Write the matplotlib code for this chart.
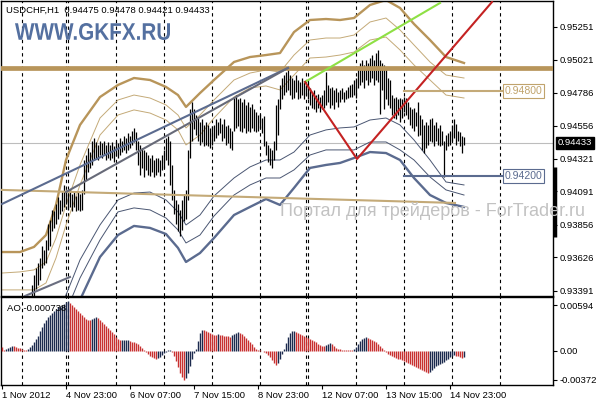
import matplotlib
matplotlib.use("Agg")
import matplotlib.pyplot as plt
import matplotlib.transforms as mtransforms
from matplotlib.textpath import TextPath
from matplotlib.patches import PathPatch
from matplotlib.font_manager import FontProperties
import numpy as np

plt.rcParams['font.family'] = ['Liberation Sans', 'DejaVu Sans']

symbol = "USDCHF,H1"
last_ohlc = [0.94475, 0.94478, 0.94421, 0.94433]

# H1 bars, price in pips (0.0001), first visible bar index
first_bar = 15
bar_high = [9343, 9350, 9355, 9359, 9362, 9371, 9368, 9375, 9386, 9389,
            9396, 9395, 9400, 9405, 9403, 9409, 9414, 9410, 9407, 9410,
            9407, 9409, 9406, 9409, 9407, 9410, 9431, 9435, 9440, 9437,
            9445, 9447, 9444, 9442, 9445, 9443, 9445, 9442, 9444, 9442,
            9444, 9441, 9445, 9443, 9447, 9445, 9448, 9447, 9450, 9448,
            9452, 9454, 9451, 9445, 9442, 9440, 9438, 9437, 9435, 9433,
            9435, 9431, 9433, 9433, 9431, 9435, 9438, 9447, 9448, 9445,
            9428, 9410, 9403, 9400, 9396, 9403, 9407, 9410, 9438, 9467,
            9472, 9467, 9463, 9461, 9458, 9460, 9456, 9458, 9456, 9454,
            9455, 9456, 9460, 9458, 9461, 9457, 9460, 9455, 9456, 9454,
            9452, 9476, 9477, 9474, 9475, 9472, 9474, 9470, 9472, 9469,
            9471, 9467, 9465, 9463, 9464, 9461, 9462, 9445, 9442, 9440,
            9438, 9445, 9470, 9474, 9484, 9489, 9491, 9493, 9496, 9491,
            9489, 9488, 9491, 9488, 9486, 9489, 9486, 9484, 9486, 9482,
            9479, 9481, 9477, 9478, 9476, 9477, 9481, 9493, 9484, 9482,
            9483, 9481, 9482, 9479, 9481, 9482, 9479, 9481, 9483, 9484,
            9485, 9488, 9489, 9496, 9500, 9502, 9498, 9502, 9500, 9503,
            9505, 9502, 9507, 9509, 9502, 9500, 9498, 9496, 9489, 9488,
            9477, 9475, 9476, 9474, 9475, 9474, 9476, 9475, 9472, 9469,
            9467, 9468, 9465, 9472, 9463, 9460, 9456, 9458, 9456, 9460,
            9461, 9456, 9458, 9454, 9456, 9452, 9445, 9449, 9450, 9452,
            9456, 9460, 9457, 9452, 9451, 9448, 9447.8]
bar_low = [9333, 9334, 9340, 9343, 9347, 9355, 9357, 9359, 9368, 9371,
           9381, 9383, 9386, 9390, 9393, 9395, 9398, 9400, 9396, 9398,
           9395, 9398, 9395, 9396, 9395, 9396, 9407, 9417, 9423, 9426,
           9428, 9431, 9433, 9431, 9435, 9433, 9435, 9431, 9433, 9431,
           9433, 9430, 9434, 9433, 9435, 9437, 9438, 9436, 9438, 9440,
           9442, 9444, 9438, 9428, 9421, 9426, 9419, 9424, 9421, 9420,
           9423, 9419, 9421, 9423, 9420, 9424, 9426, 9431, 9428, 9414,
           9403, 9393, 9386, 9381, 9378, 9382, 9388, 9390, 9403, 9433,
           9445, 9453, 9449, 9445, 9442, 9444, 9441, 9442, 9441, 9440,
           9442, 9445, 9447, 9449, 9450, 9445, 9447, 9442, 9443, 9440,
           9438, 9452, 9454, 9455, 9452, 9451, 9454, 9450, 9452, 9451,
           9454, 9452, 9451, 9452, 9454, 9450, 9441, 9435, 9430, 9428,
           9426, 9431, 9438, 9449, 9467, 9474, 9477, 9479, 9481, 9477,
           9474, 9475, 9479, 9474, 9475, 9477, 9474, 9477, 9474, 9470,
           9468, 9467, 9465, 9468, 9465, 9467, 9468, 9470, 9472, 9468,
           9470, 9467, 9472, 9469, 9472, 9474, 9472, 9474, 9475, 9476,
           9476, 9477, 9475, 9482, 9484, 9486, 9482, 9488, 9484, 9486,
           9489, 9484, 9488, 9486, 9464, 9481, 9467, 9474, 9470, 9468,
           9463, 9461, 9460, 9463, 9458, 9461, 9465, 9463, 9460, 9456,
           9454, 9452, 9455, 9448, 9449, 9438, 9436, 9440, 9442, 9445,
           9444, 9441, 9445, 9442, 9441, 9442, 9419, 9438, 9441, 9442,
           9445, 9447, 9442, 9445, 9441, 9436, 9442.1]

# Bollinger-style bands, read at sparse bars (pips)
band_idx = [0, 9, 16, 22, 27, 32, 39, 49, 58, 66, 74, 82, 88, 92, 99, 106,
            116, 124, 132, 139, 146, 154, 162, 169, 176, 184, 192, 199, 206,
            214, 222, 231]
band_up3 = [9366.4, 9366.4, 9370.0, 9378.4, 9399.6, 9431.3, 9456.0, 9475.7,
            9484.2, 9489.1, 9487.7, 9482.8, 9477.1, 9468.7, 9478.5, 9487.7,
            9500.4, 9503.9, 9505.3, 9506.7, 9521.5, 9530.0, 9530.7, 9530.0,
            9531.4, 9540.6, 9544.1, 9538.5, 9527.2, 9515.9, 9503.9, 9499.7]
band_up2 = [9351.6, 9352.4, 9353.8, 9359.4, 9376.3, 9399.6, 9427.8, 9460.9,
            9473.6, 9477.1, 9475.0, 9470.1, 9463.0, 9453.9, 9463.0, 9473.6,
            9487.7, 9492.6, 9494.8, 9493.3, 9505.3, 9515.9, 9517.3, 9517.3,
            9519.4, 9528.6, 9531.4, 9523.0, 9512.4, 9500.4, 9491.2, 9489.1]
band_up1 = [9339.7, 9339.7, 9339.7, 9344.6, 9362.2, 9385.5, 9413.7, 9448.9,
            9463.0, 9466.6, 9464.4, 9459.5, 9452.5, 9441.9, 9448.9, 9460.9,
            9475.7, 9482.1, 9483.5, 9480.7, 9491.2, 9503.2, 9503.9, 9505.3,
            9507.4, 9515.9, 9518.0, 9508.9, 9498.3, 9487.7, 9477.1, 9475.0]
band_dn1 = [9311.4, 9311.4, 9312.9, 9315.0, 9318.5, 9336.1, 9360.8, 9385.5,
            9403.1, 9408.0, 9408.7, 9403.1, 9394.7, 9385.5, 9392.5, 9405.9,
            9418.6, 9426.4, 9431.3, 9431.3, 9436.9, 9448.9, 9452.5, 9453.9,
            9454.6, 9459.5, 9460.9, 9456.0, 9445.4, 9431.3, 9415.8, 9413.7]
band_dn2 = [9300.9, 9300.9, 9302.3, 9304.4, 9307.9, 9324.1, 9348.1, 9374.9,
            9394.7, 9397.5, 9396.1, 9390.4, 9382.0, 9372.8, 9378.4, 9391.8,
            9406.6, 9413.7, 9418.6, 9418.6, 9424.3, 9434.8, 9438.4, 9438.4,
            9438.4, 9444.0, 9444.0, 9438.4, 9431.3, 9419.3, 9410.2, 9406.6]
band_dn3 = [9290.3, 9290.3, 9291.7, 9293.8, 9297.4, 9311.4, 9332.6, 9362.9,
            9378.4, 9384.8, 9383.4, 9379.1, 9369.3, 9359.4, 9365.7, 9376.3,
            9392.5, 9398.2, 9403.8, 9399.6, 9411.6, 9425.7, 9427.8, 9429.2,
            9432.7, 9436.9, 9436.2, 9431.3, 9418.6, 9406.6, 9401.0, 9398.2]

# Awesome Oscillator, units of 0.00001, from bar 0
ao_pts = [52, 13, 26, 39, 52, 65, 65, 52, 39, 33, 26, 13, 13, 26, 52, 78,
          117, 156, 195, 260, 312, 364, 403, 442, 468, 494, 520, 546, 572,
          585, 598, 611, 637, 650, 624, 598, 572, 546, 520, 494, 468, 442,
          416, 403, 403, 416, 429, 442, 429, 403, 377, 351, 325, 299, 273,
          247, 221, 182, 156, 143, 145, 147, 148, 149, 130, 117, 112, 104,
          91, 65, 39, 13, -13, -39, -65, -78, -91, -104, -91, -78, -52, -26,
          -13, 7, 8, -13, -65, -130, -208, -286, -338, -377, -351, -286,
          -195, -104, -26, 26, 130, 234, 273, 270, 260, 247, 234, 221, 208,
          205, 221, 208, 205, 195, 193, 190, 188, 208, 221, 234, 247, 240,
          221, 195, 169, 143, 117, 91, 52, 26, 13, 12, 0, -13, -26, -52,
          -78, -117, -156, -182, -156, -104, -39, 26, 104, 182, 234, 255,
          260, 247, 234, 221, 208, 195, 182, 169, 156, 143, 130, 117, 91, 78,
          65, 64, 78, 91, 104, 91, 65, 39, 26, 20, 15, 13, 12, 12, 11, 10,
          26, 52, 91, 130, 156, 169, 176, 170, 156, 143, 130, 117, 91, 65,
          39, 13, -13, -39, -52, -65, -78, -91, -98, -104, -117, -130, -143,
          -156, -169, -182, -195, -208, -221, -234, -247, -260, -273, -286,
          -273, -247, -221, -195, -182, -169, -156, -143, -120, -100, -80,
          -60, -50, -60, -70, -80, -85, -74]
ao_last = "-0.000738"

separators = [10, 32, 33, 57, 81, 105, 129, 152, 153, 177, 201, 225, 249]
time_ticks = [0, 32, 64, 96, 128, 160, 192, 224]
time_labels = ["1 Nov 2012", "4 Nov 23:00", "6 Nov 07:00", "7 Nov 15:00",
               "8 Nov 23:00", "12 Nov 07:00", "13 Nov 15:00", "14 Nov 23:00"]
price_ticks = [0.95251, 0.95021, 0.94786, 0.94556, 0.94321, 0.94091,
               0.93856, 0.93626, 0.93391]
ao_ticks = [0.00594, 0.0, -0.00372]
ao_tick_labels = ["0.00594", "0.00", "-0.00372"]

# drawn objects (bar index, price)
resistance = 0.94962
level_hi = 0.94800
level_lo = 0.94200
level_span = [201, 251.5]
fan_a = ([0, 143], [0.94003, 0.94962])
fan_b = ([32, 143], [0.94087, 0.94962])
base_line = ([0, 226.5], [0.94102, 0.94010])
low_seg = ([11.5, 34], [0.93354, 0.93488])
green_line = ([151.5, 219], [0.94863, 0.95420])
red_line = ([151.5, 177.5, 245], [0.94863, 0.94320, 0.95427])

TAN = '#b8955a'
TAN_L = '#c4aa78'
SLATE = '#5b6b8f'
SLATE_D = '#4a5672'
NAVY = '#1c2a4e'
RED = '#c83030'

W, H = 596, 400
def frame(l, t, r, b):
    return [l / W, 1 - b / H, (r - l) / W, (b - t) / H]

fig = plt.figure(figsize=(W / 100, H / 100), dpi=100)
ax = fig.add_axes(frame(1, 1, 553, 296))
ao = fig.add_axes(frame(1, 297, 553, 385))

xmin, xmax = -0.5, 275.5
ax.set_xlim(xmin, xmax)
ax.set_ylim(0.93354, 0.95434)
ao.set_xlim(xmin, xmax)
ao.set_ylim(-0.00442, 0.00702)

dash = (0, (3, 3))
for s in separators:
    ax.axvline(s, color='black', lw=0.8, ls=dash, zorder=1)
    ao.axvline(s, color='black', lw=0.8, ls=dash, zorder=1)

# bands
bx = np.array(band_idx)
ax.plot(bx, np.array(band_up3) / 1e4, color=TAN, lw=1.7, zorder=2)
ax.plot(bx, np.array(band_up2) / 1e4, color=TAN_L, lw=0.7, zorder=2)
ax.plot(bx, np.array(band_up1) / 1e4, color=TAN_L, lw=0.7, zorder=2)
ax.plot(bx, np.array(band_dn1) / 1e4, color=SLATE_D, lw=0.7, zorder=2)
ax.plot(bx, np.array(band_dn2) / 1e4, color=SLATE_D, lw=0.7, zorder=2)
ax.plot(bx, np.array(band_dn3) / 1e4, color=SLATE, lw=1.7, zorder=2)

# current price line
ax.axhline(last_ohlc[3], color='#bdbdbd', lw=0.8, zorder=1)

# price bars
xb = np.arange(first_bar, first_bar + len(bar_high))
ax.vlines(xb, np.array(bar_low) / 1e4, np.array(bar_high) / 1e4,
          colors='black', lw=0.9, zorder=3)

# objects
ax.axhline(resistance, color=TAN, lw=3.4, zorder=4)
ax.plot(base_line[0], base_line[1], color=TAN_L, lw=1.5, zorder=4)
ax.plot(fan_a[0], fan_a[1], color=SLATE, lw=1.5, zorder=4)
ax.plot(fan_b[0], fan_b[1], color='#676a78', lw=1.5, zorder=4)
ax.plot(low_seg[0], low_seg[1], color='#6a6e80', lw=1.5, zorder=4)
ax.plot(green_line[0], green_line[1], color='#8ee044', lw=1.5, zorder=4)
ax.plot(red_line[0], red_line[1], color='#c42222', lw=1.5, zorder=4)
ax.plot(level_span, [level_hi, level_hi], color=TAN_L, lw=1.5, zorder=4)
ax.plot(level_span, [level_lo, level_lo], color=SLATE, lw=1.5, zorder=4)
ax.text(level_span[1], level_hi, "0.94800", color='#c0a36c', fontsize=7.6,
        ha='left', va='center', zorder=5,
        bbox=dict(boxstyle='square,pad=0.15', fc='white', ec='#c0a36c', lw=0.8))
ax.text(level_span[1], level_lo, "0.94200", color=SLATE, fontsize=7.6,
        ha='left', va='center', zorder=5,
        bbox=dict(boxstyle='square,pad=0.15', fc='white', ec=SLATE, lw=0.8))

# AO histogram
av = np.array(ao_pts) / 1e5
ai = np.arange(len(av))
rising = np.diff(av, prepend=av[0] + 1) > 0
ao.vlines(ai, 0, av, colors=np.where(rising, NAVY, RED), lw=1.0, zorder=3)

# axes styling
for a in (ax, ao):
    for sp in a.spines.values():
        sp.set_color('black')
        sp.set_linewidth(1.0)
    a.yaxis.tick_right()
    a.tick_params(axis='y', length=3, width=0.8, pad=1.5, labelsize=6.8,
                  colors='black')

ax.set_yticks(price_ticks)
ax.set_yticklabels([f"{t:.5f}" for t in price_ticks])
ax.tick_params(axis='x', bottom=False, labelbottom=False)
ao.set_yticks(ao_ticks)
ao.set_yticklabels(ao_tick_labels)
ao.set_xticks(time_ticks)
ao.set_xticklabels(time_labels, ha='left')
ao.tick_params(axis='x', length=3, width=0.8, pad=1, labelsize=6.8)

# price box on the scale
tr = mtransforms.blended_transform_factory(ax.transAxes, ax.transData)
ax.text(1.0 + 5 / 552, last_ohlc[3], f"{last_ohlc[3]:.5f}", transform=tr,
        ha='left', va='center', color='white', fontsize=6.8, clip_on=False,
        bbox=dict(boxstyle='square,pad=0.2', fc='black', ec='black'))
ax.plot([1.0036, 1.0036], [0.94264, 0.93770], transform=tr, color='black',
        lw=2.5, clip_on=False, solid_capstyle='butt')

# texts
fig.text(6 / W, 1 - 13 / H,
         symbol + "  " + " ".join(f"{v:.5f}" for v in last_ohlc),
         fontsize=6.8, va='baseline', ha='left')
fig.text(7 / W, 1 - 311 / H, "AO " + ao_last, fontsize=6.8, va='baseline',
         ha='left')
fig.text(280 / W, 1 - 216 / H, "Портал для трейдеров - ForTrader.ru",
         fontsize=13, color='#c2c2c2', va='baseline', ha='left', zorder=10)

# condensed bold logo text, fitted to its box in pixels
logo = TextPath((0, 0), "WWW.GKFX.RU", size=24,
                prop=FontProperties(family='Liberation Sans', weight='bold'))
ext = logo.get_extents()
logo_tr = (mtransforms.Affine2D().translate(-ext.x0, -ext.y0)
           .scale(155 / ext.width, 17 / ext.height).translate(15, H - 40))
fig.add_artist(PathPatch(logo, transform=logo_tr, fc='#5470a0', ec='none',
                         zorder=10))

fig.savefig("out.png", dpi=100)
